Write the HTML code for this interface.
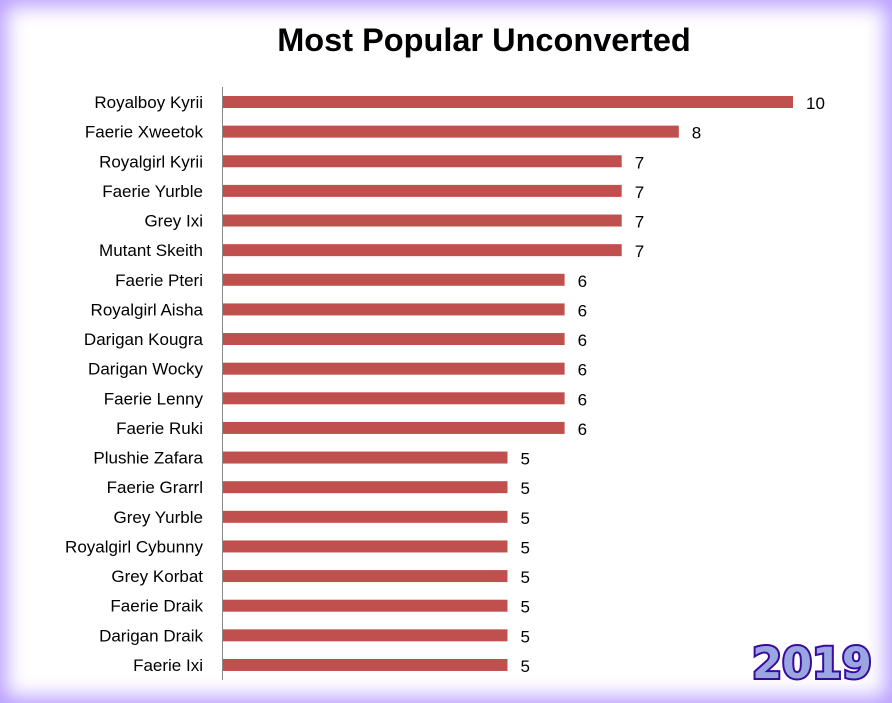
<!DOCTYPE html>
<html><head><meta charset="utf-8"><style>
body{margin:0;width:892px;height:703px;overflow:hidden;background:#fff;font-family:"Liberation Sans",sans-serif}
#frame{position:absolute;left:0;top:0;width:892px;height:703px;box-shadow:inset 0 0 20px 6px #b89cff;}
svg{position:absolute;left:0;top:0}
</style></head><body>
<div id="frame"></div>
<svg width="892" height="703" id="chart">
<text x="484" y="51" text-anchor="middle" font-size="32.5" font-weight="bold" fill="#000">Most Popular Unconverted</text>
<line x1="222.5" y1="87" x2="222.5" y2="680" stroke="#888" stroke-width="1"/>
<text x="812" y="678" text-anchor="middle" font-size="43" font-weight="bold" fill="#9aa6e0" stroke="#3a0aa0" stroke-width="4" paint-order="stroke" style="font-family:'DejaVu Sans',sans-serif">2019</text>
</svg>
<script>
const categories=["Royalboy Kyrii","Faerie Xweetok","Royalgirl Kyrii","Faerie Yurble","Grey Ixi","Mutant Skeith","Faerie Pteri","Royalgirl Aisha","Darigan Kougra","Darigan Wocky","Faerie Lenny","Faerie Ruki","Plushie Zafara","Faerie Grarrl","Grey Yurble","Royalgirl Cybunny","Grey Korbat","Faerie Draik","Darigan Draik","Faerie Ixi"];
const values=[10,8,7,7,7,7,6,6,6,6,6,6,5,5,5,5,5,5,5,5];
const svg=document.getElementById('chart');
const NS="http://www.w3.org/2000/svg";
function x(v){return 222+v*57.1;}
function y(i){return 102+i*29.63;}
categories.forEach((c,i)=>{
  const r=document.createElementNS(NS,'rect');
  r.setAttribute('x',223);r.setAttribute('y',y(i)-6);
  r.setAttribute('width',x(values[i])-223);r.setAttribute('height',12);
  r.setAttribute('fill','#c0504d');
  
  
  svg.appendChild(r);
  const t=document.createElementNS(NS,'text');
  t.setAttribute('x',203);t.setAttribute('y',y(i)+6);
  t.setAttribute('text-anchor','end');t.setAttribute('font-size','17');
  t.textContent=c;
  
  
  svg.appendChild(t);
  const v=document.createElementNS(NS,'text');
  v.setAttribute('x',x(values[i])+13);v.setAttribute('y',y(i)+7);
  v.setAttribute('font-size','17');
  v.textContent=values[i];
  
  
  svg.appendChild(v);
});
</script>
</body></html>
